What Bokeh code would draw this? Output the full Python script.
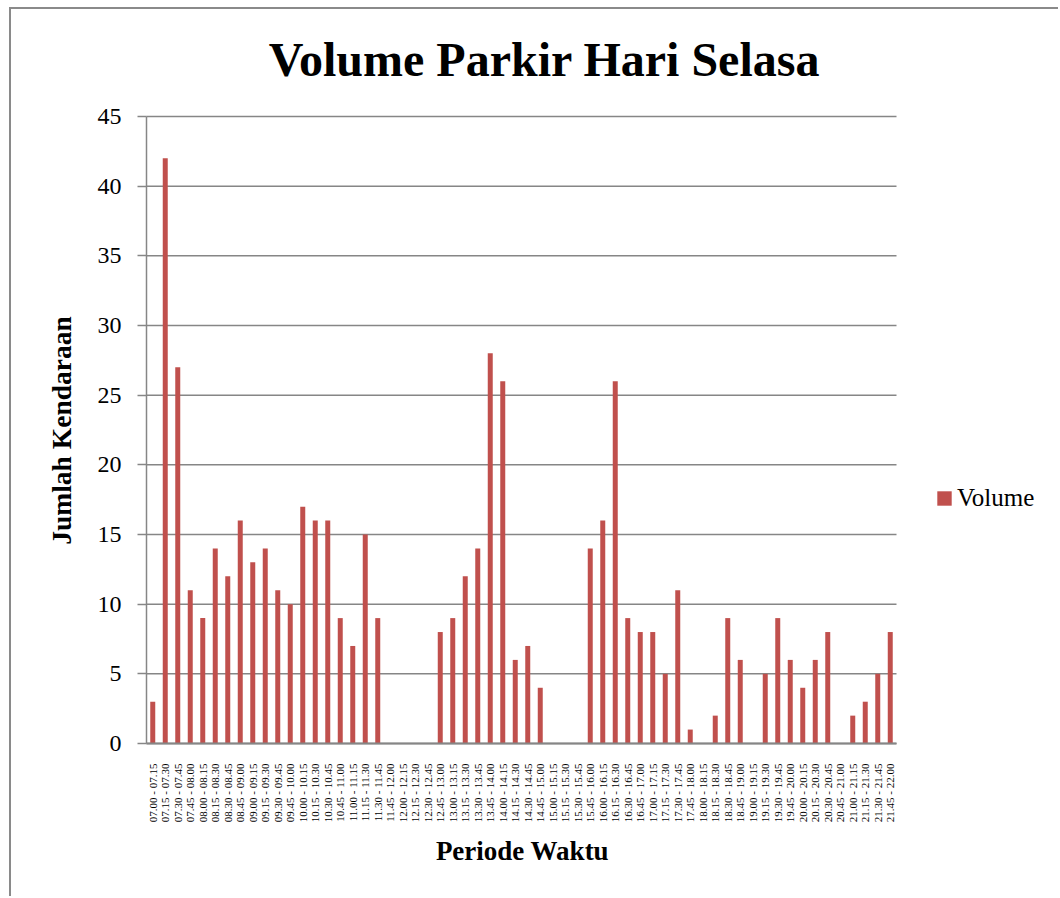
import math
from bokeh.plotting import figure
from bokeh.models import (Range1d, Legend, LegendItem, Label, FixedTicker,
                          ColumnDataSource)
from bokeh.embed import file_html
from bokeh.resources import INLINE

periods = [
    "07.00 - 07.15", "07.15 - 07.30", "07.30 - 07.45", "07.45 - 08.00",
    "08.00 - 08.15", "08.15 - 08.30", "08.30 - 08.45", "08.45 - 09.00",
    "09.00 - 09.15", "09.15 - 09.30", "09.30 - 09.45", "09.45 - 10.00",
    "10.00 - 10.15", "10.15 - 10.30", "10.30 - 10.45", "10.45 - 11.00",
    "11.00 - 11.15", "11.15 - 11.30", "11.30 - 11.45", "11.45 - 12.00",
    "12.00 - 12.15", "12.15 - 12.30", "12.30 - 12.45", "12.45 - 13.00",
    "13.00 - 13.15", "13.15 - 13.30", "13.30 - 13.45", "13.45 - 14.00",
    "14.00 - 14.15", "14.15 - 14.30", "14.30 - 14.45", "14.45 - 15.00",
    "15.00 - 15.15", "15.15 - 15.30", "15.30 - 15.45", "15.45 - 16.00",
    "16.00 - 16.15", "16.15 - 16.30", "16.30 - 16.45", "16.45 - 17.00",
    "17.00 - 17.15", "17.15 - 17.30", "17.30 - 17.45", "17.45 - 18.00",
    "18.00 - 18.15", "18.15 - 18.30", "18.30 - 18.45", "18.45 - 19.00",
    "19.00 - 19.15", "19.15 - 19.30", "19.30 - 19.45", "19.45 - 20.00",
    "20.00 - 20.15", "20.15 - 20.30", "20.30 - 20.45", "20.45 - 21.00",
    "21.00 - 21.15", "21.15 - 21.30", "21.30 - 21.45", "21.45 - 22.00",
]
volume = [
    3, 42, 27, 11, 9, 14, 12, 16, 13, 14, 11, 10,
    17, 16, 16, 9, 7, 15, 9, 0, 0, 0, 0, 8,
    9, 12, 14, 28, 26, 6, 7, 4, 0, 0, 0, 14,
    16, 26, 9, 8, 8, 5, 11, 1, 0, 2, 9, 6,
    0, 5, 9, 6, 4, 6, 8, 0, 2, 3, 5, 8,
]
y_ticks = [0, 5, 10, 15, 20, 25, 30, 35, 40, 45]
title_text = "Volume Parkir Hari Selasa"
x_title = "Periode Waktu"
y_title = "Jumlah Kendaraan"
series_name = "Volume"

SERIF = "Liberation Serif"
GRID = "#868686"
BAR = "#C0504D"

n = len(periods)
idx = list(range(n))
src = ColumnDataSource(dict(x=idx, period=periods, volume=volume))

# canvas geometry (pixels); the frame fills the whole canvas so that
# titles and legend, drawn inside it, are never clipped
W, H = 1049, 889
AREA_L, AREA_B = 135, 155          # category area: left / bottom margin
AREA_W, AREA_H = 750, 627          # category area: width / height
y_max = y_ticks[-1]
px_x = AREA_W / n                  # pixels per category
px_y = AREA_H / y_max              # pixels per vehicle

x0 = -0.5 - AREA_L / px_x
y0 = -AREA_B / px_y
x_range = Range1d(x0, x0 + W / px_x)
y_range = Range1d(y0, y0 + H / px_y)

p = figure(width=W, height=H, x_range=x_range, y_range=y_range,
           output_backend="svg", toolbar_location=None,
           min_border_left=0, min_border_right=0,
           min_border_top=0, min_border_bottom=0)
p.outline_line_color = None
p.background_fill_color = "white"
p.border_fill_color = "white"
p.styles = {"margin-left": "9px", "margin-top": "7px",
            "border-left": "2px solid #8a8a8a", "border-top": "2px solid #8a8a8a"}
p.xgrid.visible = False
p.ygrid.visible = False

# horizontal gridlines limited to the category area
p.segment(x0=[-0.5] * len(y_ticks), x1=[n - 0.5] * len(y_ticks),
          y0=y_ticks, y1=y_ticks, line_color=GRID, line_width=1.5)

r = p.vbar(x="x", top="volume", width=0.4, source=src,
           fill_color=BAR, line_color=None)

# y axis
p.yaxis.fixed_location = -0.5
p.yaxis.bounds = (0, y_max)
p.yaxis.ticker = FixedTicker(ticks=y_ticks)
p.yaxis.axis_line_color = GRID
p.yaxis.axis_line_width = 1.5
p.yaxis.major_tick_line_color = GRID
p.yaxis.major_tick_line_width = 1.5
p.yaxis.major_tick_out = 9
p.yaxis.major_tick_in = 0
p.yaxis.minor_tick_line_color = None
p.yaxis.major_label_text_font = SERIF
p.yaxis.major_label_text_font_size = "24px"
p.yaxis.major_label_text_color = "black"
p.yaxis.major_label_standoff = 16

# x axis (categories)
p.xaxis.fixed_location = 0
p.xaxis.bounds = (-0.5, n - 0.5)
p.xaxis.ticker = FixedTicker(ticks=idx)
p.xaxis.major_label_overrides = {i: lab for i, lab in zip(idx, periods)}
p.xaxis.axis_line_color = GRID
p.xaxis.axis_line_width = 2
p.xaxis.major_tick_line_color = None
p.xaxis.major_tick_out = 0
p.xaxis.major_tick_in = 0
p.xaxis.minor_tick_line_color = None
p.xaxis.major_label_orientation = math.pi / 2
p.xaxis.major_label_text_font = SERIF
p.xaxis.major_label_text_font_size = "11px"
p.xaxis.major_label_text_color = "black"
p.xaxis.major_label_standoff = 20

# axis titles
p.add_layout(Label(x=50, y=H - 421, x_units="screen", y_units="screen",
                   text=y_title, angle=math.pi / 2,
                   text_align="center", text_baseline="middle",
                   text_font=SERIF, text_font_style="bold",
                   text_font_size="27.5px", text_color="black"))
p.add_layout(Label(x=511, y=H - 841, x_units="screen", y_units="screen",
                   text=x_title, text_align="center", text_baseline="middle",
                   text_font=SERIF, text_font_style="bold",
                   text_font_size="27px", text_color="black"))

# legend
legend = Legend(items=[LegendItem(label=series_name, renderers=[r])],
                location=(924, 386), orientation="vertical",
                padding=0, margin=0, spacing=0,
                glyph_width=18, glyph_height=18, label_standoff=4,
                label_height=18,
                label_text_font=SERIF, label_text_font_size="25px",
                label_text_color="black",
                border_line_color=None, background_fill_alpha=0)
p.add_layout(legend, "center")

# chart title
p.add_layout(Label(x=533, y=H - 50, x_units="screen", y_units="screen",
                   text=title_text, text_align="center", text_baseline="middle",
                   text_font=SERIF, text_font_style="bold",
                   text_font_size="48px", text_color="black"))

open("out.html", "w").write(file_html(p, INLINE))
